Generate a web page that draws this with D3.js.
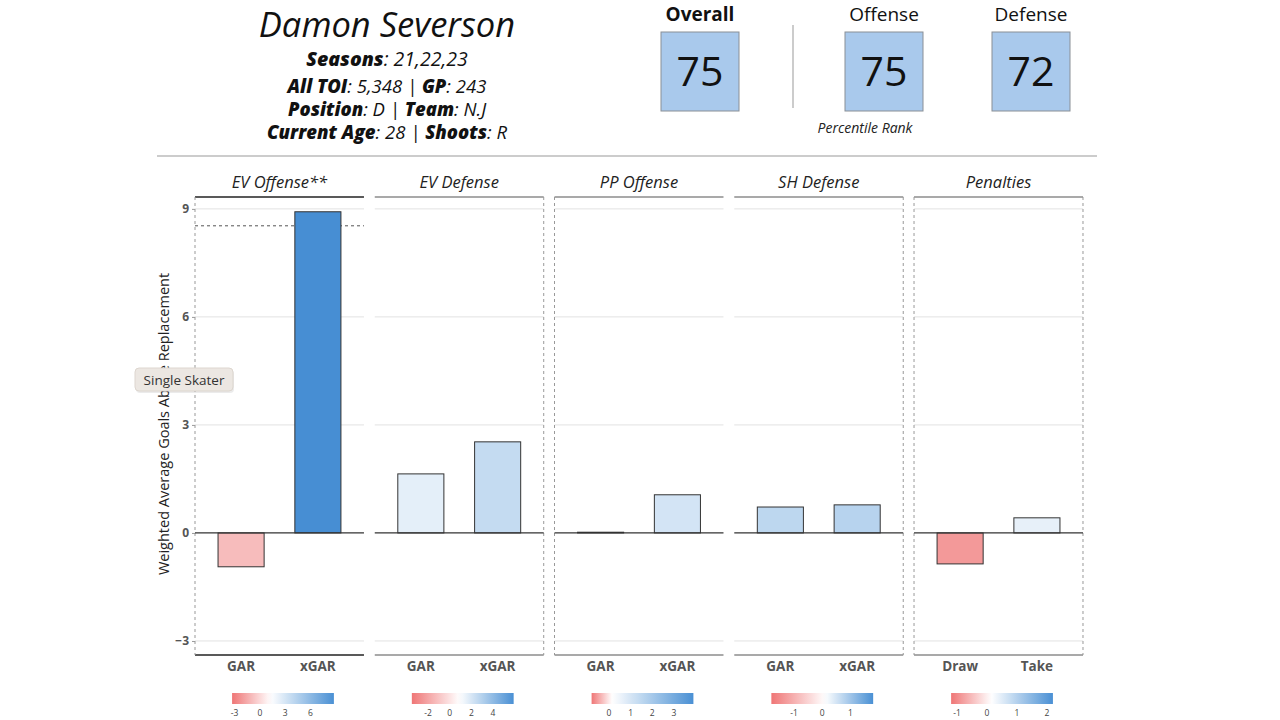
<!DOCTYPE html>
<html>
<head>
<meta charset="utf-8">
<script src="https://cdn.jsdelivr.net/npm/d3@7"></script>
<style>
  body { margin: 0; background: #fff; }
  svg { font-family: "Open Sans", sans-serif; }
</style>
</head>
<body>
<svg id="chart" width="1280" height="720"></svg>
<script>
// data
const panels = ['EV Offense**', 'EV Defense', 'PP Offense', 'SH Defense', 'Penalties'];
const barLabels = [['GAR', 'xGAR'], ['GAR', 'xGAR'], ['GAR', 'xGAR'], ['GAR', 'xGAR'], ['Draw', 'Take']];
const barValues = [[-0.94, 8.92], [1.64, 2.53], [0.02, 1.06], [0.72, 0.78], [-0.86, 0.42]];
const legendDomains = [[-3.3, 8.8], [-3.5, 5.9], [-0.8, 3.9], [-1.8, 1.8], [-1.2, 2.2]];
const legendMids = [1.3, 0.9, 0.15, 0.1, 0.15];   // where each colour bar turns white
const legendTicks = [[-3, 0, 3, 6], [-2, 0, 2, 4], [0, 1, 2, 3], [-1, 0, 1], [-1, 0, 1, 2]];
const yTicks = [-3, 0, 3, 6, 9];
const refValue = 8.53; // dashed reference line, EV Offense only

const player = 'Damon Severson';
const infoLines = [
    [['Seasons', true], [': 21,22,23', false]],
    [['All TOI', true], [': 5,348 | ', false], ['GP', true], [': 243', false]],
    [['Position', true], [': D | ', false], ['Team', true], [': N.J', false]],
    [['Current Age', true], [': 28 | ', false], ['Shoots', true], [': R', false]]
];
const rankNames = ['Overall', 'Offense', 'Defense'];
const rankValues = [75, 75, 72];

const svg = d3.select('#chart');

// ---- header ----
svg.append('text')
    .attr('x', 387).attr('y', 37)
    .attr('text-anchor', 'middle')
    .attr('font-size', 34.5).attr('font-style', 'italic')
    .attr('fill', '#111')
    .text(player);

const lineY = [66, 93, 116, 139];
const lineSize = [19.5, 18.5, 18.5, 18.5];
infoLines.forEach((parts, i) => {
    const t = svg.append('text')
        .attr('x', 387).attr('y', lineY[i])
        .attr('text-anchor', 'middle')
        .attr('font-size', lineSize[i])
        .attr('font-style', 'italic')
        .attr('fill', '#111');
    parts.forEach(p => {
        t.append('tspan')
            .attr('font-weight', p[1] ? 800 : 400)
            .text(p[0]);
    });
});

const boxX = d3.scaleOrdinal().domain(rankNames).range([661, 845, 992]);
const boxSize = 78;
rankNames.forEach((name, i) => {
    const x0 = boxX(name);
    svg.append('text')
        .attr('x', x0 + boxSize / 2).attr('y', 21)
        .attr('text-anchor', 'middle')
        .attr('font-size', 19)
        .attr('font-weight', i === 0 ? 700 : 400)
        .attr('fill', '#111')
        .text(name);
    svg.append('rect')
        .attr('x', x0).attr('y', 32)
        .attr('width', boxSize).attr('height', boxSize + 1)
        .attr('fill', '#a9c9ec')
        .attr('stroke', '#8a8f96').attr('stroke-width', 1);
    svg.append('text')
        .attr('x', x0 + boxSize / 2).attr('y', 86)
        .attr('text-anchor', 'middle')
        .attr('font-size', 41)
        .attr('fill', '#111')
        .text(rankValues[i]);
});
svg.append('line')
    .attr('x1', 793).attr('x2', 793).attr('y1', 25).attr('y2', 108)
    .attr('stroke', '#bbb').attr('stroke-width', 1.5);
svg.append('text')
    .attr('x', 865).attr('y', 133)
    .attr('text-anchor', 'middle')
    .attr('font-size', 14).attr('font-style', 'italic')
    .attr('fill', '#222')
    .text('Percentile Rank');

svg.append('line')
    .attr('x1', 157).attr('x2', 1097).attr('y1', 156).attr('y2', 156)
    .attr('stroke', '#999').attr('stroke-width', 1);

// ---- facets ----
const panelTop = 197, panelBottom = 655;
const y = d3.scaleLinear().domain([-3.39, 9.33]).range([panelBottom, panelTop]);
const px = d3.scaleBand().domain(panels).range([195, 1083]).paddingInner(0.06);
const w = px.bandwidth();

// which panel edges show a dashed vertical line
const leftDash = [true, false, true, false, true];
const rightDash = [false, true, false, true, true];

const redEnd = '#ef7676', blueEnd = '#4a90d4';

panels.forEach((name, i) => {
    const g = svg.append('g').attr('transform', 'translate(' + px(name) + ',0)');
    const x = d3.scalePoint().domain(barLabels[i]).range([0, w]).padding(0.6);
    const barW = x.step() * 0.6;
    const color = d3.scaleLinear()
        .domain([legendDomains[i][0], legendMids[i], legendDomains[i][1]])
        .range([redEnd, '#ffffff', blueEnd]);

    // gridlines
    g.selectAll('.grid')
        .data(yTicks.filter(d => d !== 0))
        .enter().append('line')
        .attr('x1', 0).attr('x2', w)
        .attr('y1', d => y(d)).attr('y2', d => y(d))
        .attr('stroke', '#e2e2e2').attr('stroke-width', 1);

    const frameCol = i === 0 ? '#222' : '#8c8c8c';
    g.append('line').attr('x1', 0).attr('x2', w).attr('y1', panelTop).attr('y2', panelTop)
        .attr('stroke', frameCol).attr('stroke-width', 1.3);
    g.append('line').attr('x1', 0).attr('x2', w).attr('y1', panelBottom).attr('y2', panelBottom)
        .attr('stroke', frameCol).attr('stroke-width', 1.3);
    if (leftDash[i]) {
        g.append('line').attr('x1', 0).attr('x2', 0).attr('y1', panelTop).attr('y2', panelBottom)
            .attr('stroke', '#999').attr('stroke-dasharray', '3,3');
    }
    if (rightDash[i]) {
        g.append('line').attr('x1', w).attr('x2', w).attr('y1', panelTop).attr('y2', panelBottom)
            .attr('stroke', '#999').attr('stroke-dasharray', '3,3');
    }

    if (i === 0) {
        g.append('line')
            .attr('x1', 0).attr('x2', w)
            .attr('y1', y(refValue)).attr('y2', y(refValue))
            .attr('stroke', '#555').attr('stroke-dasharray', '3,3');
    }

    // bars
    g.selectAll('.bar')
        .data(barValues[i])
        .enter().append('rect')
        .attr('class', 'bar')
        .attr('x', (d, j) => x(barLabels[i][j]) - barW / 2)
        .attr('width', barW)
        .attr('y', d => y(Math.max(0, d)))
        .attr('height', d => Math.abs(y(d) - y(0)))
        .attr('fill', d => color(d))
        .attr('stroke', '#333').attr('stroke-width', 1);

    // zero line
    g.append('line')
        .attr('x1', 0).attr('x2', w)
        .attr('y1', y(0)).attr('y2', y(0))
        .attr('stroke', '#333').attr('stroke-width', 1.2);

    // strip title
    g.append('text')
        .attr('x', w / 2).attr('y', 188)
        .attr('text-anchor', 'middle')
        .attr('font-size', 16.5).attr('font-style', 'italic')
        .attr('fill', '#222')
        .text(name);

    // x labels
    g.selectAll('.xlab')
        .data(barLabels[i])
        .enter().append('text')
        .attr('x', d => x(d)).attr('y', 671)
        .attr('text-anchor', 'middle')
        .attr('font-size', 13.5).attr('font-weight', 700)
        .attr('fill', '#555')
        .text(d => d);

    // colour bar legend
    const lx0 = x(barLabels[i][0]) - 9, lx1 = x(barLabels[i][1]) + 16;
    const lx = d3.scaleLinear().domain(legendDomains[i]).range([lx0, lx1]);
    const gradId = 'grad' + i;
    const grad = svg.append('defs').append('linearGradient')
        .attr('id', gradId).attr('x1', '0%').attr('x2', '100%');
    d3.range(0, 1.0001, 0.05).forEach(t => {
        const v = legendDomains[i][0] + t * (legendDomains[i][1] - legendDomains[i][0]);
        grad.append('stop').attr('offset', t * 100 + '%').attr('stop-color', color(v));
    });
    g.append('rect')
        .attr('x', lx0).attr('y', 693)
        .attr('width', lx1 - lx0).attr('height', 11)
        .attr('fill', 'url(#' + gradId + ')');
    g.selectAll('.ltick')
        .data(legendTicks[i])
        .enter().append('text')
        .attr('x', d => lx(d)).attr('y', 716)
        .attr('text-anchor', 'middle')
        .attr('font-size', 8.5)
        .attr('fill', '#444')
        .text(d => d);
});

// y axis
const yAxis = svg.append('g').attr('transform', 'translate(195,0)')
    .call(d3.axisLeft(y).tickValues(yTicks).tickSize(3).tickFormat(d3.format('d')));
yAxis.select('.domain').remove();
yAxis.selectAll('line').attr('stroke', '#999');
yAxis.selectAll('text')
    .attr('font-family', '"Open Sans", sans-serif')
    .attr('font-size', 12).attr('font-weight', 700)
    .attr('fill', '#555');

svg.append('text')
    .attr('transform', 'translate(169,' + ((panelTop + panelBottom) / 2 - 2) + ') rotate(-90)')
    .attr('text-anchor', 'middle')
    .attr('font-size', 14.5)
    .attr('fill', '#222')
    .text('Weighted Average Goals Above Replacement');

// "Single Skater" tooltip overlay
const tip = svg.append('g').attr('transform', 'translate(135,368)');
tip.append('rect')
    .attr('x', 1).attr('y', 2).attr('width', 98).attr('height', 23).attr('rx', 4)
    .attr('fill', '#000').attr('opacity', 0.08);
tip.append('rect')
    .attr('width', 98).attr('height', 23).attr('rx', 4)
    .attr('fill', '#ece7e2').attr('stroke', '#ddd6cf');
tip.append('text')
    .attr('x', 49).attr('y', 16.5)
    .attr('text-anchor', 'middle')
    .attr('font-size', 13.5).attr('fill', '#333')
    .text('Single Skater');
</script>
</body>
</html>
